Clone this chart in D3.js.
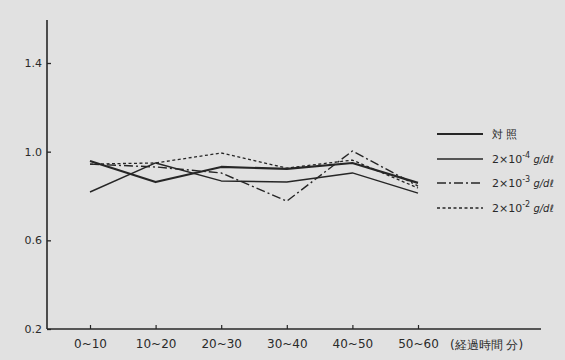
<!DOCTYPE html>
<html>
<head>
<meta charset="utf-8">
<script src="https://cdn.jsdelivr.net/npm/d3@7"></script>
<style>
  body { margin: 0; background: #e1e1e1; }
  svg { display: block; }
  text { font-family: "DejaVu Sans", sans-serif; fill: #2a2a2a; }
</style>
</head>
<body>
<svg id="chart" width="565" height="360"></svg>
<script>
// categories (elapsed time, minutes)
var periods = ["0~10", "10~20", "20~30", "30~40", "40~50", "50~60"];
var yTicks = [0.2, 0.6, 1.0, 1.4];

// series values
var control = [0.958, 0.863, 0.931, 0.922, 0.949, 0.859];
var conc4 = [0.818, 0.949, 0.868, 0.863, 0.904, 0.813];
var conc3 = [0.944, 0.931, 0.904, 0.777, 1.003, 0.845];
var conc2 = [0.944, 0.949, 0.994, 0.926, 0.962, 0.836];

var seriesNames = ["対 照", "-4", "-3", "-2"];

var ink = "#262626";
var svg = d3.select("#chart");

// scales
var x = d3.scalePoint()
  .domain(periods)
  .range([90, 418]);

var y = d3.scaleLinear()
  .domain([0.2, 1.4])
  .range([329, 63]);

// y axis, ticks pointing inward
var yAxis = svg.append("g")
  .attr("transform", "translate(47,0)")
  .call(d3.axisLeft(y).tickValues(yTicks).tickFormat(d3.format(".1f"))
    .tickSizeInner(-4).tickSizeOuter(0).tickPadding(5));
yAxis.select(".domain").remove();
yAxis.selectAll("line").attr("stroke", ink).attr("stroke-width", 1.3);
yAxis.selectAll("text").style("font-size", "11px").attr("fill", ink);

svg.append("line")
  .attr("x1", 47).attr("x2", 47)
  .attr("y1", 20).attr("y2", y(0.2))
  .attr("stroke", ink).attr("stroke-width", 1.6);

// x axis
var xAxis = svg.append("g")
  .attr("transform", "translate(0," + y(0.2) + ")")
  .call(d3.axisBottom(x).tickSizeInner(-4).tickSizeOuter(0).tickPadding(10));
xAxis.select(".domain").remove();
xAxis.selectAll("line").attr("stroke", ink).attr("stroke-width", 1.2);
xAxis.selectAll("text").style("font-size", "12px").attr("fill", ink);

svg.append("line")
  .attr("x1", 47).attr("x2", 541)
  .attr("y1", y(0.2)).attr("y2", y(0.2))
  .attr("stroke", ink).attr("stroke-width", 1.6);

svg.append("text")
  .attr("x", 450).attr("y", y(0.2) + 20)
  .style("font-size", "12px")
  .text("(経過時間 分)");

// lines
var styles = [
  {data: control, width: 2.2, dash: null},
  {data: conc4, width: 1.4, dash: null},
  {data: conc3, width: 1.4, dash: "9,3,2,3"},
  {data: conc2, width: 1.3, dash: "3,2.5"}
];

var line = d3.line()
  .x(function(d, i) { return x(periods[i]); })
  .y(function(d) { return y(d); });

styles.forEach(function(s) {
  svg.append("path")
    .datum(s.data)
    .attr("d", line)
    .attr("fill", "none")
    .attr("stroke", ink)
    .attr("stroke-width", s.width)
    .attr("stroke-dasharray", s.dash)
    .attr("stroke-linejoin", "round");
});

// legend
var legendY = [134, 159, 183, 208];
styles.forEach(function(s, i) {
  svg.append("line")
    .attr("x1", 437).attr("x2", 483)
    .attr("y1", legendY[i]).attr("y2", legendY[i])
    .attr("stroke", ink)
    .attr("stroke-width", s.width)
    .attr("stroke-dasharray", s.dash);

  var t = svg.append("text")
    .attr("x", 492).attr("y", legendY[i] + 4)
    .style("font-size", "11px");
  if (i == 0) {
    t.text(seriesNames[0]);
  } else {
    t.append("tspan").text("2×10");
    t.append("tspan").attr("dy", -5).style("font-size", "8px").text(seriesNames[i]);
    t.append("tspan").attr("dy", 5).style("font-style", "italic").style("font-size", "10px").text(" g/dℓ");
  }
});
</script>
</body>
</html>
